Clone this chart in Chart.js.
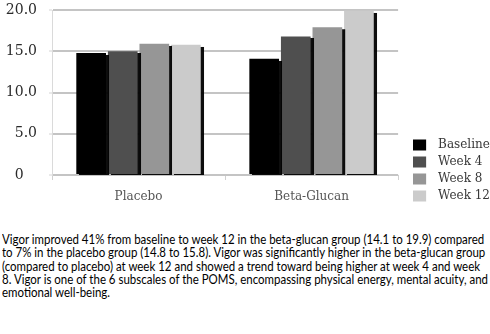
<!DOCTYPE html>
<html lang="en">
<head>
    <meta charset="UTF-8">
    <title>Vigor - POMS subscale</title>
    <script src="https://cdn.jsdelivr.net/npm/chart.js"></script>
    <style>
        body { margin: 0; background: #fff; width: 490px; height: 334px; overflow: hidden; }
        #box { position: relative; width: 490px; height: 207px; }
        #note {
            margin: 26px 0 0 2px;
            font-family: Lato, "Open Sans", sans-serif;
            font-size: 13.5px;
            line-height: 13.3px;
            color: #000;
            white-space: nowrap;
            transform: scaleX(0.85);
            transform-origin: 0 0;
        }
    </style>
</head>
<body>
    <div id="box"><canvas id="vigorChart" width="490" height="207"></canvas></div>
    <div id="note">
        Vigor improved 41% from baseline to week 12 in the beta-glucan group (14.1 to 19.9) compared<br>
        to 7% in the placebo group (14.8 to 15.8). Vigor was significantly higher in the beta-glucan group<br>
        (compared to placebo) at week 12 and showed a trend toward being higher at week 4 and week<br>
        8. Vigor is one of the 6 subscales of the POMS, encompassing physical energy, mental acuity, and<br>
        emotional well-being.
    </div>
    <script>
        var groups = ['Placebo', 'Beta-Glucan'];
        var weeks = ['Baseline', 'Week 4', 'Week 8', 'Week 12'];
        var baseline = [14.8, 14.1];
        var week4 = [15.0, 16.8];
        var week8 = [15.9, 17.9];
        var week12 = [15.8, 19.9];
        var yTicks = [0, 5, 10, 15, 20];
        var colors = ['#000000', '#4f4f4f', '#969696', '#cbcbcb'];

        var serif = 'DejaVu Serif';
        var series = [baseline, week4, week8, week12];

        // legend swatch: square on the left, blank space after it
        function swatch(color) {
            var c = document.createElement('canvas');
            c.width = 19; c.height = 12;
            var g = c.getContext('2d');
            g.fillStyle = color;
            g.fillRect(0, 0.5, 13, 11);
            return c;
        }

        // black drop shadow on right and bottom of every bar
        const barShadow = {
            id: 'barShadow',
            beforeDatasetsDraw(chart) {
                const c = chart.ctx;
                c.save();
                c.shadowColor = 'rgba(0,0,0,0.95)';
                c.shadowOffsetX = 3;
                c.shadowOffsetY = 2;
                c.shadowBlur = 0.5;
            },
            afterDatasetsDraw(chart) {
                chart.ctx.restore();
            }
        };

        const ctx = document.getElementById('vigorChart').getContext('2d');
        const vigorChart = new Chart(ctx, {
            type: 'bar',
            data: {
                labels: groups,
                datasets: series.map((vals, i) => ({
                    label: weeks[i],
                    data: vals,
                    backgroundColor: colors[i],
                    borderWidth: 0,
                    categoryPercentage: 0.73,
                    barPercentage: 0.94
                }))
            },
            options: {
                responsive: false,
                animation: false,
                layout: { padding: { left: 4, top: 10, right: -10, bottom: 0 } },
                plugins: {
                    tooltip: { enabled: false },
                    legend: {
                        position: 'right',
                        align: 'end',
                        maxWidth: 110,
                        labels: {
                            usePointStyle: true,
                            pointStyleWidth: 19,
                            boxHeight: 12,
                            padding: 5,
                            color: '#383838',
                            font: { family: serif, size: 12 },
                            generateLabels(chart) {
                                return Chart.defaults.plugins.legend.labels.generateLabels(chart)
                                    .map((l, i) => Object.assign(l, { pointStyle: swatch(colors[i]) }));
                            }
                        }
                    }
                },
                scales: {
                    x: {
                        grid: { display: true, drawOnChartArea: false, drawTicks: true, tickLength: 5, color: '#d0d0d0', offset: true },
                        border: { display: false },
                        ticks: { color: '#555555', padding: 10, font: { family: serif, size: 12 } },
                        afterFit(s) { s.height = 32; }
                    },
                    y: {
                        min: 0,
                        max: 20,
                        afterBuildTicks(s) { s.ticks = yTicks.map(v => ({ value: v })); },
                        grid: { color: '#c4c4c4', lineWidth: 2, drawTicks: true, tickLength: 3, tickColor: '#d4d4d4', tickWidth: 1 },
                        border: { display: true, color: '#dadada', width: 1 },
                        ticks: {
                            color: '#2a2a2a',
                            padding: 12,
                            font: { family: serif, size: 14 },
                            callback: v => v === 0 ? '0\u2007\u2008' : v.toFixed(1)
                        },
                        afterFit(s) {
                            s.width = 48;
                            s.paddingTop = 0;
                            s.paddingBottom = 0;
                        }
                    },
                    gap: {
                        position: 'right',
                        display: true,
                        grid: { display: false },
                        border: { display: false },
                        ticks: { display: false },
                        afterFit(s) { s.width = 10; }
                    }
                }
            },
            plugins: [barShadow]
        });
    </script>
</body>
</html>
